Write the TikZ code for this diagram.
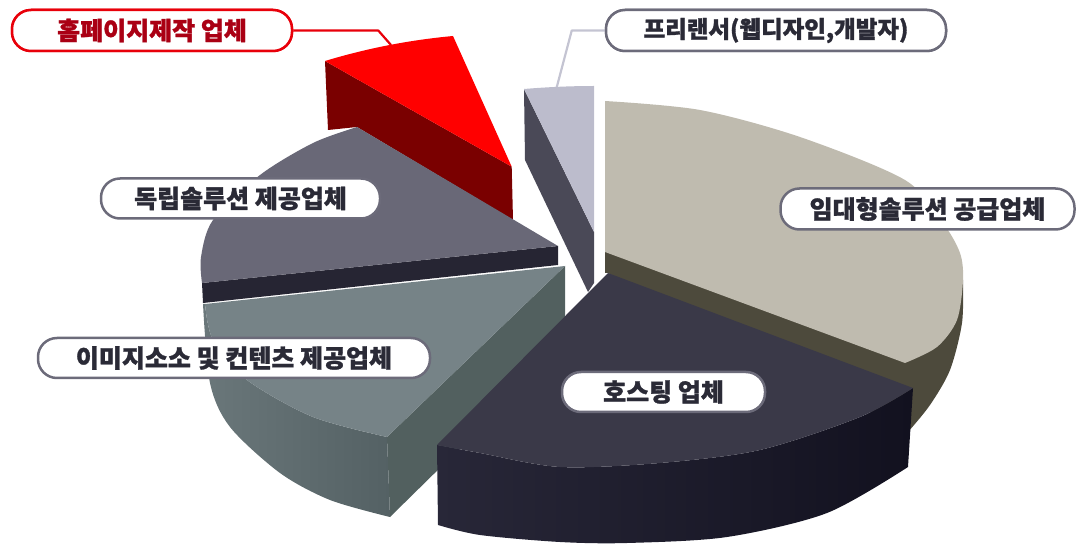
\documentclass[tikz,border=0pt]{standalone}
\usepackage{fontspec}
\newfontfamily\kr{Noto Sans CJK KR}[BoldFeatures={FakeBold=1.2}]
\definecolor{redtop}{RGB}{255,0,0}
\definecolor{redside}{RGB}{122,0,0}
\definecolor{fltop}{RGB}{188,188,204}
\definecolor{flside}{RGB}{74,73,87}
\definecolor{betop}{RGB}{191,187,175}
\definecolor{beside}{RGB}{77,74,60}
\definecolor{grtop}{RGB}{105,104,119}
\definecolor{grside}{RGB}{38,37,51}
\definecolor{sttop}{RGB}{118,131,135}
\definecolor{stsideL}{RGB}{106,119,122}
\definecolor{stsideR}{RGB}{84,97,100}
\definecolor{strad}{RGB}{82,96,95}
\definecolor{hotop}{RGB}{58,57,72}
\definecolor{hosideL}{RGB}{40,39,56}
\definecolor{hosideR}{RGB}{18,17,31}
\definecolor{labborder}{RGB}{108,107,122}
\definecolor{labtext}{RGB}{42,42,54}
\definecolor{redborder}{RGB}{232,0,10}
\definecolor{redtext}{RGB}{170,0,20}
\definecolor{leadgray}{RGB}{196,196,210}
\tikzset{
  lab/.style={draw=labborder, line width=2.5pt, fill=white, rounded corners=19pt,
    inner sep=0pt, text=labtext, font=\kr\bfseries\fontsize{25}{28}\selectfont},
  redlab/.style={lab, draw=redborder, text=redtext},
  leader/.style={line width=2.2pt, line join=round}
}
\begin{document}
\begin{tikzpicture}[x=1pt,y=-1pt]
\useasboundingbox (0,0) rectangle (1077,545);
% anchor coordinates for leader ends
\coordinate (cred) at (391,45);
\coordinate (cfree) at (556,90);
% ---------- labels (placed first so leaders can refer to them; redrawn on top later)
\node[redlab, minimum width=280, minimum height=41] (lred) at (152,30.5) {홈페이지제작 업체};
\node[lab, minimum width=340, minimum height=41, font=\kr\bfseries\fontsize{23.5}{28}\selectfont] (lfree) at (776,30.5) {프리랜서(웹디자인,개발자)};
% leaders
\draw[leader, redborder] (lred.east) -- ++(85,0) -- (cred);
\draw[leader, leadgray] (lfree.west) -- ++(-33,0) -- (cfree);
% ---------- freelancer slice
\fill[flside] (524,89) -- (594,232) -- (594,283) -- (588,292) -- (525,160) -- cycle;
\fill[fltop] (524,89) .. controls (548,87) and (572,86) .. (594,86) -- (594,232) -- cycle;
% ---------- red slice
\fill[redside] (325,61) -- (511.7,166.7) -- (513,220) -- (357,127) -- (328,130) -- cycle;
\fill[redtop] (325,61) .. controls (368,48) and (410,40) .. (453,36) -- (511.7,166.7) -- cycle;
% ---------- beige slice
\fill[beside] (605,252) -- (963,280) -- plot[smooth] coordinates {(963,280) (962,323) (950,370) (930,405) (908,432)} -- (608,273) -- (605,273) -- cycle;
\fill[betop] (605,252) -- (605,101) -- plot[smooth] coordinates {(605,101) (700,110) (800,137) (905,180) (943,223) (960,253) (963,280) (957,320) (937,347) (905,363)} -- cycle;
% ---------- gray slice
\fill[grside] (202,283) -- (558,246) -- (558,265) -- (203,303) -- cycle;
\fill[grtop] (357,127) -- (558,246) -- (202,283) -- plot[smooth] coordinates {(202,283) (201,257) (213,220) (260,175) (313,143) (357,127)} -- cycle;
% ---------- steel slice
\fill[strad] (565,266) -- (387,437) -- (390,517) -- (565,345) -- cycle;
\shade[left color=stsideL, right color=stsideR] (203,304) -- plot[smooth] coordinates {(203,304) (210,383) (230,427) (280,473) (330,500) (390,517)} -- (387,437) -- plot[smooth] coordinates {(387,437) (313,417) (247,380) (213,340) (205,304)} -- cycle;
\fill[sttop] (205,304) -- (565,266) -- (387,437) -- plot[smooth] coordinates {(387,437) (313,417) (247,380) (213,340) (205,304)} -- cycle;
% ---------- hosting slice
\shade[left color=hosideL, right color=hosideR] (437,445) -- plot[smooth] coordinates {(437,445) (480,453) (560,467) (660,463) (760,450) (860,417) (913,388)} -- (908,467) -- plot[smooth] coordinates {(908,467) (827,513) (727,537) (627,543) (560,542) (480,535) (438,525)} -- cycle;
\fill[hotop] (608,273) -- (913,388) -- plot[smooth] coordinates {(913,388) (860,417) (760,450) (660,463) (560,467) (480,453) (437,445)} -- cycle;
% ---------- labels on top
\node[redlab, minimum width=280, minimum height=41] at (lred) {홈페이지제작 업체};
\node[lab, minimum width=340, minimum height=41, font=\kr\bfseries\fontsize{23.5}{28}\selectfont] at (lfree) {프리랜서(웹디자인,개발자)};
\node[lab, minimum width=294, minimum height=41] (lrent) at (927.5,209) {임대형솔루션 공급업체};
\node[lab, minimum width=279, minimum height=40] (lind) at (240.5,198.5) {독립솔루션 제공업체};
\node[lab, minimum width=392, minimum height=40] (limg) at (234,358) {이미지소소 및 컨텐츠 제공업체};
\node[lab, minimum width=203, minimum height=40] (lhost) at (663.5,392) {호스팅 업체};
\end{tikzpicture}
\end{document}
